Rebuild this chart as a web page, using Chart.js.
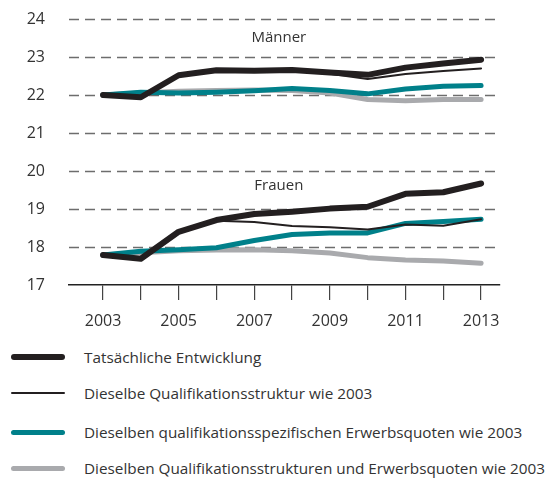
<!DOCTYPE html>
<html>
<head>
<meta charset="utf-8">
<script src="https://cdn.jsdelivr.net/npm/chart.js@4.4.1/dist/chart.umd.min.js"></script>
<style>
  html, body { margin: 0; padding: 0; background: #fff; }
  body { width: 545px; height: 479px; overflow: hidden; font-family: "Open Sans", sans-serif; }
  #wrap { position: relative; width: 545px; height: 340px; }
  #legend { position: relative; width: 545px; height: 139px; }
  .row { position: absolute; left: 0; height: 20px; width: 545px; }
  .swatch { position: absolute; left: 11px; width: 54px; border-radius: 4px; }
  .lbl { position: absolute; left: 84px; top: 0; font-size: 15.3px; line-height: 20px; color: #333; white-space: nowrap; }
</style>
</head>
<body>
<div id="wrap"><canvas id="c" width="545" height="340"></canvas></div>
<div id="legend"></div>
<script>
const years = [2003, 2004, 2005, 2006, 2007, 2008, 2009, 2010, 2011, 2012, 2013];
const tickLabels = ["2003", "2005", "2007", "2009", "2011", "2013"];
const yTicks = [17, 18, 19, 20, 21, 22, 23, 24];
const seriesNames = [
  "Tatsächliche Entwicklung",
  "Dieselbe Qualifikationsstruktur wie 2003",
  "Dieselben qualifikationsspezifischen Erwerbsquoten wie 2003",
  "Dieselben Qualifikationsstrukturen und Erwerbsquoten wie 2003"
];
const groupLabels = ["Männer", "Frauen"];

// Männer
const menActual   = [22.00, 21.94, 22.52, 22.65, 22.64, 22.66, 22.59, 22.53, 22.72, 22.83, 22.93];
const menQualStr  = [22.00, 21.95, 22.52, 22.64, 22.63, 22.64, 22.56, 22.42, 22.55, 22.63, 22.70];
const menErwerb   = [22.00, 22.07, 22.05, 22.07, 22.11, 22.17, 22.12, 22.03, 22.16, 22.23, 22.25];
const menBoth     = [22.00, 22.05, 22.10, 22.12, 22.13, 22.12, 22.05, 21.88, 21.85, 21.88, 21.88];
// Frauen
const womActual   = [17.79, 17.69, 18.40, 18.71, 18.87, 18.93, 19.01, 19.06, 19.40, 19.44, 19.67];
const womQualStr  = [17.79, 17.70, 18.40, 18.69, 18.66, 18.55, 18.52, 18.46, 18.59, 18.56, 18.73];
const womErwerb   = [17.79, 17.89, 17.93, 17.98, 18.17, 18.33, 18.37, 18.37, 18.62, 18.67, 18.73];
const womBoth     = [17.79, 17.85, 17.90, 17.92, 17.93, 17.90, 17.84, 17.72, 17.66, 17.63, 17.57];

const styles = [
  { color: "#231f20", width: 6 },
  { color: "#231f20", width: 2 },
  { color: "#00808a", width: 5 },
  { color: "#a9aaad", width: 5 }
];
const drawOrder = [2, 1, 3, 4];
const FONT = "'Open Sans', sans-serif";

function pts(arr) { return years.map((y, i) => ({ x: y, y: arr[i] })); }

const groups = [
  [menActual, menQualStr, menErwerb, menBoth],
  [womActual, womQualStr, womErwerb, womBoth]
];
const datasets = [];
groups.forEach((g, gi) => {
  g.forEach((arr, si) => {
    datasets.push({
      label: seriesNames[si] + " (" + groupLabels[gi] + ")",
      data: pts(arr),
      borderColor: styles[si].color,
      borderWidth: styles[si].width,
      pointRadius: 0,
      fill: false,
      tension: 0,
      borderCapStyle: "round",
      borderJoinStyle: "round",
      order: drawOrder[si]
    });
  });
});

const dashedGrid = {
  id: "dashedGrid",
  beforeDatasetsDraw(chart) {
    const { ctx, scales, chartArea } = chart;
    ctx.save();
    ctx.strokeStyle = "#6d6d6d";
    ctx.lineWidth = 1.3;
    ctx.setLineDash([10, 6]);
    yTicks.forEach(v => {
      if (v === scales.y.min) return;
      const y = Math.round(scales.y.getPixelForValue(v)) + 0.5;
      ctx.beginPath();
      ctx.moveTo(chartArea.left, y);
      ctx.lineTo(chartArea.right, y);
      ctx.stroke();
    });
    ctx.restore();
  }
};

const groupLabelPlugin = {
  id: "groupLabels",
  afterDatasetsDraw(chart) {
    const { ctx, scales } = chart;
    ctx.save();
    ctx.font = "15px " + FONT;
    ctx.fillStyle = "#333";
    ctx.textAlign = "center";
    ctx.textBaseline = "middle";
    ctx.fillText(groupLabels[0], scales.x.getPixelForValue(2007.65), scales.y.getPixelForValue(23.5));
    ctx.fillText(groupLabels[1], scales.x.getPixelForValue(2007.65), scales.y.getPixelForValue(19.62));
    ctx.restore();
  }
};

new Chart(document.getElementById("c"), {
  type: "line",
  data: { datasets },
  options: {
    responsive: false,
    animation: false,
    layout: { padding: { top: 19, right: 45, left: 0, bottom: 0 } },
    plugins: { legend: { display: false }, tooltip: { enabled: false } },
    scales: {
      x: {
        type: "linear",
        min: 2002.1,
        max: 2013.5,
        afterBuildTicks(scale) { scale.ticks = years.map(v => ({ value: v })); },
        afterFit(scale) { scale.height = 55; scale.paddingLeft = 0; scale.paddingRight = 0; },
        ticks: {
          autoSkip: false,
          maxRotation: 0,
          padding: 12,
          color: "#333",
          font: { family: FONT, size: 16 },
          callback: (v) => tickLabels.includes(String(v)) ? String(v) : ""
        },
        grid: { drawOnChartArea: false, drawTicks: true, tickLength: 15, color: "#444", lineWidth: 1.2 },
        border: { display: true, color: "#222", width: 1.5 }
      },
      y: {
        min: 17,
        max: 24,
        afterBuildTicks(scale) { scale.ticks = yTicks.map(v => ({ value: v })); },
        afterFit(scale) { scale.width = 69; scale.paddingTop = 0; scale.paddingBottom = 0; },
        ticks: {
          padding: 16,
          color: "#333",
          font: { family: FONT, size: 16 }
        },
        grid: { display: false },
        border: { display: false }
      }
    }
  },
  plugins: [dashedGrid, groupLabelPlugin]
});

// Legend
const legend = document.getElementById("legend");
const rowTops = [7, 43, 82, 118];
seriesNames.forEach((name, i) => {
  const row = document.createElement("div");
  row.className = "row";
  row.style.top = rowTops[i] + "px";
  const sw = document.createElement("div");
  sw.className = "swatch";
  sw.style.height = styles[i].width + "px";
  sw.style.top = (10 - styles[i].width / 2) + "px";
  sw.style.background = styles[i].color;
  const lb = document.createElement("div");
  lb.className = "lbl";
  lb.textContent = name;
  row.appendChild(sw);
  row.appendChild(lb);
  legend.appendChild(row);
});
</script>
</body>
</html>
